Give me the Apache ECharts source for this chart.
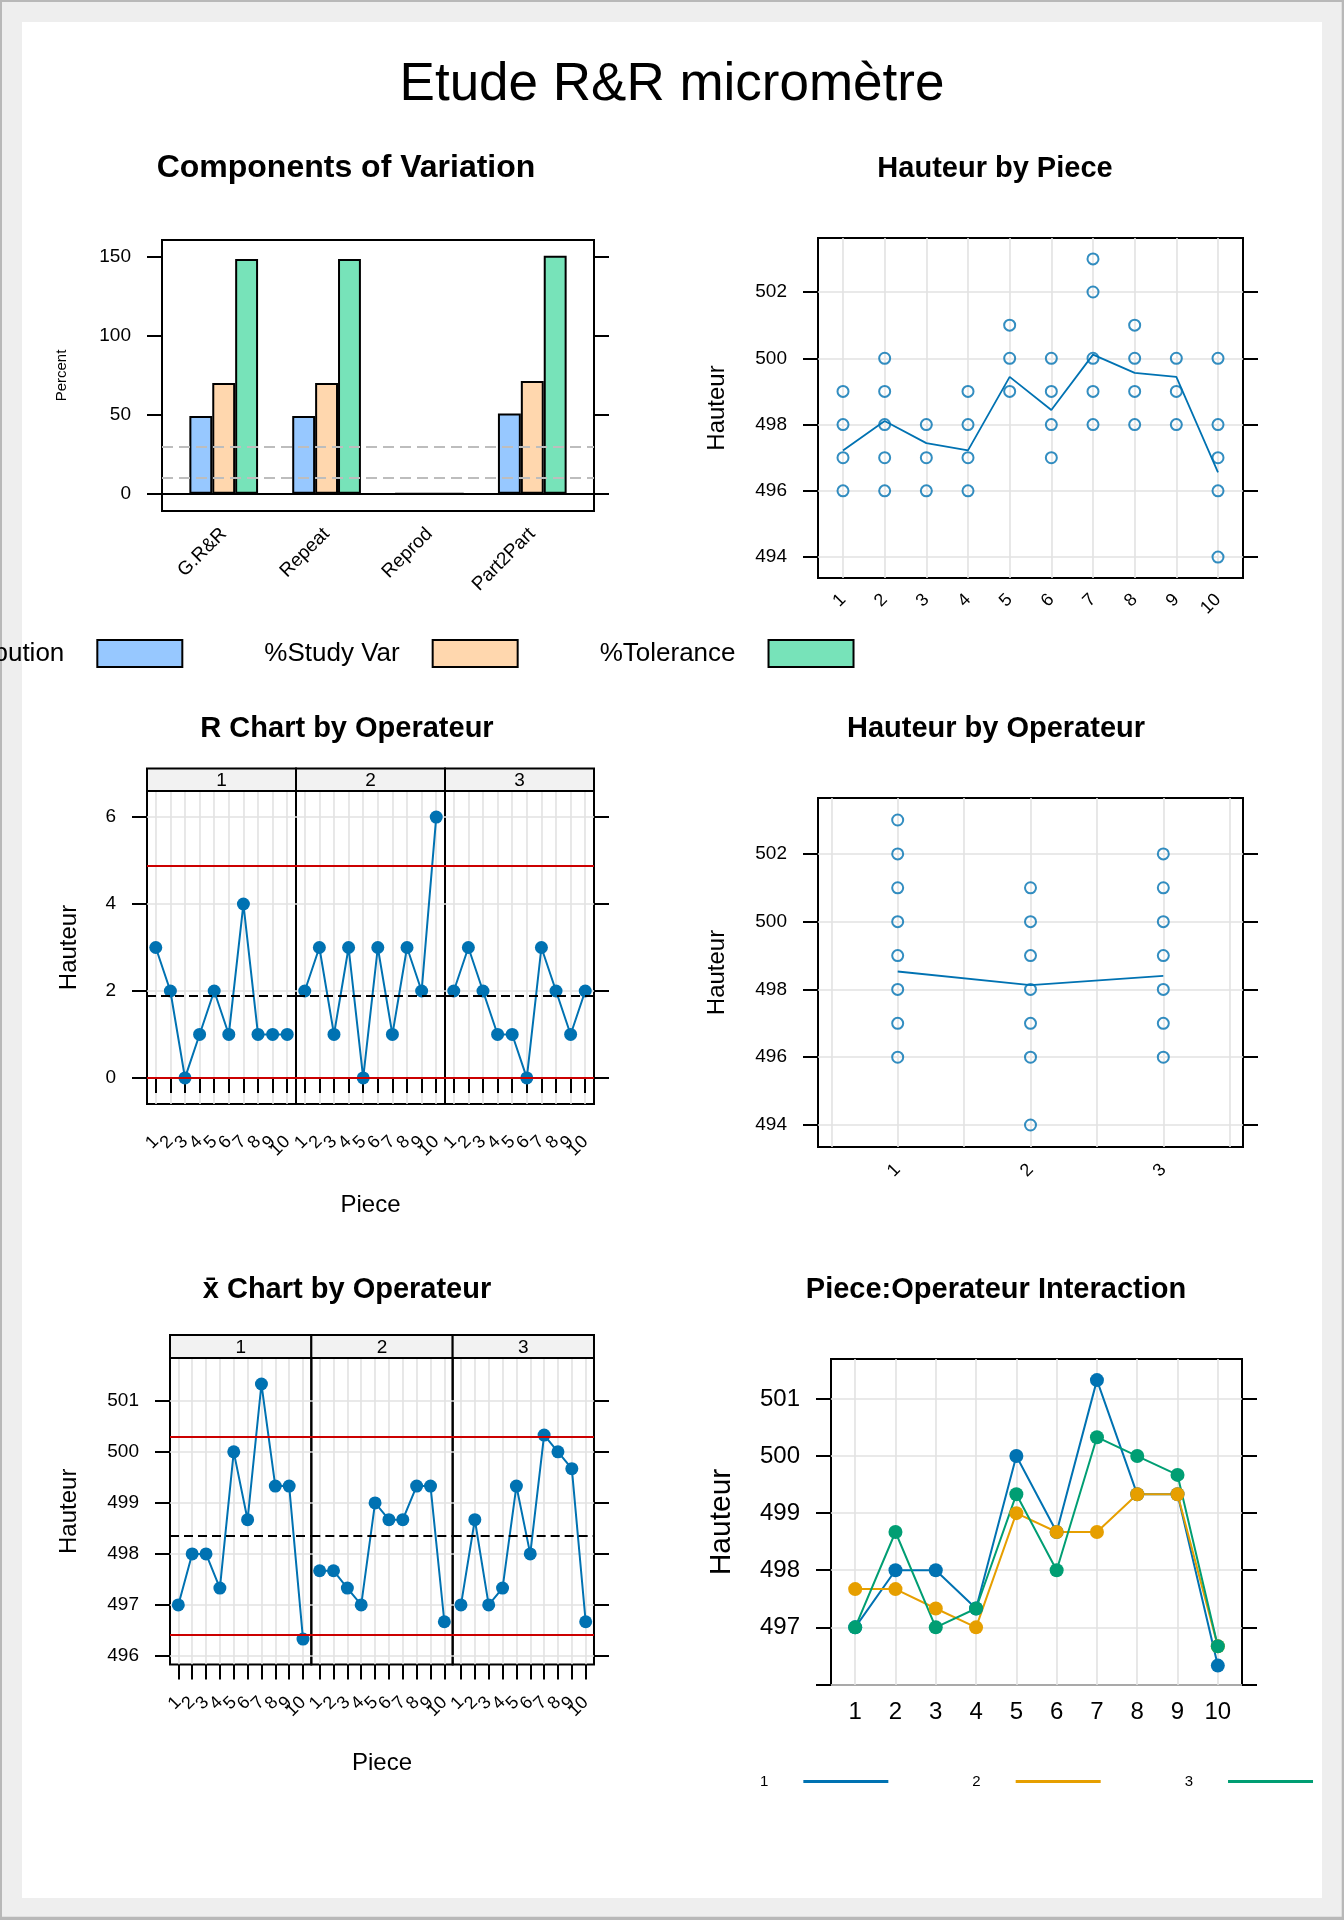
<!DOCTYPE html>
<html><head><meta charset="utf-8">
<script src="https://cdn.jsdelivr.net/npm/echarts@6/dist/echarts.min.js"></script>
<style>html,body{margin:0;padding:0;background:#fff}#c{width:1344px;height:1920px}</style>
</head><body><div id="c"></div>
<script>
const FONT = '"Liberation Sans", Arial, Helvetica, sans-serif';

// ---------- data ----------
const compCategories = ['G.R&R', 'Repeat', 'Reprod', 'Part2Part'];
const pctContribution = [49.2, 49.2, 0, 50.8];
const pctStudyVar = [70.1, 70.1, 0, 71.3];
const pctTolerance = [148.5, 148.5, 0, 150.6];
const compTicks = [0, 50, 100, 150];
const compRefLines = [10, 30];

const pieces = [1, 2, 3, 4, 5, 6, 7, 8, 9, 10];
const pieceObserved = [
  [496, 497, 498, 499],
  [496, 497, 498, 499, 500],
  [496, 497, 498],
  [496, 497, 498, 499],
  [499, 500, 501],
  [497, 498, 499, 500],
  [498, 499, 500, 502, 503],
  [498, 499, 500, 501],
  [498, 499, 500],
  [494, 496, 497, 498, 500]
];
const pieceMeans = [497.22, 498.11, 497.44, 497.22, 499.44, 498.44, 500.11, 499.56, 499.44, 496.56];
const hauteurTicks = [494, 496, 498, 500, 502];

const operators = [1, 2, 3];
const operatorObserved = [
  [496, 497, 498, 499, 500, 501, 502, 503],
  [494, 496, 497, 498, 499, 500, 501],
  [496, 497, 498, 499, 500, 501, 502]
];
const operatorMeans = [498.53, 498.13, 498.40];
const operatorGridTicks = [0.5, 1, 1.5, 2, 2.5, 3, 3.5];

const rangeOp1 = [3, 2, 0, 1, 2, 1, 4, 1, 1, 1];
const rangeOp2 = [2, 3, 1, 3, 0, 3, 1, 3, 2, 6];
const rangeOp3 = [2, 3, 2, 1, 1, 0, 3, 2, 1, 2];
const rCenter = 1.9, rUCL = 4.89, rLCL = 0;
const rTicks = [0, 2, 4, 6];

const meanOp1 = [497.0, 498.0, 498.0, 497.33, 500.0, 498.67, 501.33, 499.33, 499.33, 496.33];
const meanOp2 = [497.67, 497.67, 497.33, 497.0, 499.0, 498.67, 498.67, 499.33, 499.33, 496.67];
const meanOp3 = [497.0, 498.67, 497.0, 497.33, 499.33, 498.0, 500.33, 500.0, 499.67, 496.67];
const xbarCenter = 498.35, xbarUCL = 500.30, xbarLCL = 496.41;
const xbarTicks = [496, 497, 498, 499, 500, 501];
const interTicks = [496, 497, 498, 499, 500, 501];
const interLabels = [497, 498, 499, 500, 501];

// ---------- styles / layout ----------
const C_BLUE = '#0072B2', C_ORANGE = '#E69F00', C_GREEN = '#009E73', C_RED = '#CC0000';
const GRIDC = '#e2e2e2';
const L = {
  comp: {x: 162, y: 240, w: 432, h: 271, min: -10.95, max: 160.57},
  piece: {x: 818, y: 238, w: 425, h: 340, min: 493.37, max: 503.63},
  r: {x: 147, y: 791, pw: 149, h: 313, sh: 22.4, min: -0.6, max: 6.6},
  oper: {x: 818, y: 798, w: 425, h: 349, min: 493.35, max: 503.65},
  xbar: {x: 170, y: 1358, pw: 141.33, h: 306.6, sh: 23.1, min: 495.83, max: 501.84},
  inter: {x: 831, y: 1359, w: 411, h: 326, min: 495.99, max: 501.7}
};

function grid(x, y, w, h) {
  return {left: x, top: y, width: w, height: h, show: true, borderColor: '#000', borderWidth: 2,
    backgroundColor: 'transparent', containLabel: false, outerBoundsMode: 'none'};
}
function axis(kind, g, min, max, o) {
  o = o || {};
  return {
    type: 'value', gridIndex: g, min: min, max: max,
    position: o.pos || (kind === 'x' ? 'bottom' : 'left'),
    axisLine: {show: false},
    axisTick: {show: !!o.tick, inside: false, length: 15, lineStyle: {color: '#000', width: 2}, customValues: o.ticks},
    axisLabel: {show: !!o.label, customValues: o.labels || o.ticks, margin: o.margin || 31, color: '#000',
      fontSize: o.fs || 19, fontFamily: FONT, rotate: o.rotate || 0, hideOverlap: false,
      showMinLabel: true, showMaxLabel: true,
      formatter: o.formatter || undefined},
    splitLine: {show: !!o.grid, lineStyle: {color: GRIDC, width: 1.6}},
    name: o.name || '', nameLocation: 'middle', nameGap: o.nameGap || 0,
    nameTextStyle: {color: '#000', fontSize: o.nfs || 24, fontFamily: FONT}
  };
}
function mline(items) {
  return {silent: true, symbol: ['none', 'none'], label: {show: false}, animation: false,
    emphasis: {disabled: true}, data: items.map(function (it) {
      return {yAxis: it[0], lineStyle: {color: it[1], width: 2, type: it[2] || 'solid'}};
    })};
}
function pairs(xs, ys) { return ys.map(function (v, i) { return [xs[i], v]; }); }
function flatten(xs, lists) {
  const out = [];
  lists.forEach(function (vals, i) { vals.forEach(function (v) { out.push([xs[i], v]); }); });
  return out;
}

// ---------- grids ----------
const grids = [
  grid(L.comp.x, L.comp.y, L.comp.w, L.comp.h),
  grid(L.piece.x, L.piece.y, L.piece.w, L.piece.h),
  grid(L.r.x, L.r.y, L.r.pw, L.r.h),
  grid(L.r.x + L.r.pw, L.r.y, L.r.pw, L.r.h),
  grid(L.r.x + 2 * L.r.pw, L.r.y, L.r.pw, L.r.h),
  grid(L.oper.x, L.oper.y, L.oper.w, L.oper.h),
  grid(L.xbar.x, L.xbar.y, L.xbar.pw, L.xbar.h),
  grid(L.xbar.x + L.xbar.pw, L.xbar.y, L.xbar.pw, L.xbar.h),
  grid(L.xbar.x + 2 * L.xbar.pw, L.xbar.y, L.xbar.pw, L.xbar.h),
  grid(L.inter.x, L.inter.y, L.inter.w, L.inter.h)
];

const xAxes = [
  axis('x', 0, 0.4, 4.6, {label: true, ticks: [1, 2, 3, 4], rotate: 45, margin: 20,
    formatter: function (v) { return compCategories[Math.round(v) - 1]; }}),
  axis('x', 1, 0.4, 10.6, {label: true, ticks: pieces, rotate: 45, margin: 19, fs: 18, grid: true}),
  axis('x', 2, 0.4, 10.6, {tick: true, ticks: pieces, grid: true}),
  axis('x', 3, 0.4, 10.6, {tick: true, ticks: pieces, grid: true, name: 'Piece', nameGap: 89}),
  axis('x', 4, 0.4, 10.6, {tick: true, ticks: pieces, grid: true}),
  axis('x', 5, 0.4, 3.6, {label: true, ticks: operatorGridTicks, labels: operators, rotate: 45, margin: 20, fs: 18, grid: true}),
  axis('x', 6, 0.4, 10.6, {tick: true, ticks: pieces, grid: true}),
  axis('x', 7, 0.4, 10.6, {tick: true, ticks: pieces, grid: true, name: 'Piece', nameGap: 87}),
  axis('x', 8, 0.4, 10.6, {tick: true, ticks: pieces, grid: true}),
  axis('x', 9, 0.4, 10.6, {label: true, ticks: pieces, margin: 15, fs: 24, grid: true})
];
// dense rotated piece labels of the faceted panels: split over three label-only axes per panel
// so that ECharts does not drop overlapping end labels
[2, 3, 4, 6, 7, 8].forEach(function (g) {
  for (let k = 0; k < 3; k++) {
    const group = pieces.filter(function (p, i) { return i % 3 === k; });
    xAxes.push(axis('x', g, 0.4, 10.6, {label: true, ticks: group, rotate: 45, margin: 35, fs: 18}));
  }
});

const yAxes = [
  axis('y', 0, L.comp.min, L.comp.max, {label: true, tick: true, ticks: compTicks, name: 'Percent', nfs: 15, nameGap: 93}),
  axis('y', 0, L.comp.min, L.comp.max, {pos: 'right', tick: true, ticks: compTicks}),
  axis('y', 1, L.piece.min, L.piece.max, {label: true, tick: true, ticks: hauteurTicks, grid: true, name: 'Hauteur', nameGap: 89}),
  axis('y', 1, L.piece.min, L.piece.max, {pos: 'right', tick: true, ticks: hauteurTicks}),
  axis('y', 2, L.r.min, L.r.max, {label: true, tick: true, ticks: rTicks, grid: true, name: 'Hauteur', nameGap: 66}),
  axis('y', 3, L.r.min, L.r.max, {ticks: rTicks, grid: true}),
  axis('y', 4, L.r.min, L.r.max, {ticks: rTicks, grid: true}),
  axis('y', 4, L.r.min, L.r.max, {pos: 'right', tick: true, ticks: rTicks}),
  axis('y', 5, L.oper.min, L.oper.max, {label: true, tick: true, ticks: hauteurTicks, grid: true, name: 'Hauteur', nameGap: 89}),
  axis('y', 5, L.oper.min, L.oper.max, {pos: 'right', tick: true, ticks: hauteurTicks}),
  axis('y', 6, L.xbar.min, L.xbar.max, {label: true, tick: true, ticks: xbarTicks, grid: true, name: 'Hauteur', nameGap: 89}),
  axis('y', 7, L.xbar.min, L.xbar.max, {ticks: xbarTicks, grid: true}),
  axis('y', 8, L.xbar.min, L.xbar.max, {ticks: xbarTicks, grid: true}),
  axis('y', 8, L.xbar.min, L.xbar.max, {pos: 'right', tick: true, ticks: xbarTicks}),
  axis('y', 9, L.inter.min, L.inter.max, {label: true, tick: true, ticks: interTicks, labels: interLabels, fs: 24,
    grid: true, name: 'Hauteur', nfs: 30, nameGap: 94}),
  axis('y', 9, L.inter.min, L.inter.max, {pos: 'right', tick: true, ticks: interTicks})
];

// ---------- series ----------
const barBase = {type: 'bar', xAxisIndex: 0, yAxisIndex: 0, barWidth: 22.9, barGap: '0%'};
const series = [
  Object.assign({}, barBase, {name: '%Contribution', data: pairs([1, 2, 3, 4], pctContribution),
    itemStyle: {color: '#97C8FF', borderColor: '#000', borderWidth: 2}}),
  Object.assign({}, barBase, {name: '%Study Var', data: pairs([1, 2, 3, 4], pctStudyVar),
    itemStyle: {color: '#FFD7AE', borderColor: '#000', borderWidth: 2}}),
  Object.assign({}, barBase, {name: '%Tolerance', data: pairs([1, 2, 3, 4], pctTolerance),
    itemStyle: {color: '#77E3B9', borderColor: '#000', borderWidth: 2},
    markLine: mline([[compRefLines[0], '#bdbdbd', [11, 6]], [compRefLines[1], '#bdbdbd', [11, 6]], [0, '#000']])}),

  {type: 'scatter', name: 'obsPiece', xAxisIndex: 1, yAxisIndex: 2, data: flatten(pieces, pieceObserved),
    symbol: 'circle', symbolSize: 11, itemStyle: {color: 'transparent', borderColor: C_BLUE, borderWidth: 2}},
  {type: 'line', name: 'meanPiece', xAxisIndex: 1, yAxisIndex: 2, data: pairs(pieces, pieceMeans),
    symbol: 'none', lineStyle: {color: C_BLUE, width: 1.8}},

  {type: 'scatter', name: 'obsOper', xAxisIndex: 5, yAxisIndex: 8, data: flatten(operators, operatorObserved),
    symbol: 'circle', symbolSize: 11, itemStyle: {color: 'transparent', borderColor: C_BLUE, borderWidth: 2}},
  {type: 'line', name: 'meanOper', xAxisIndex: 5, yAxisIndex: 8, data: pairs(operators, operatorMeans),
    symbol: 'none', lineStyle: {color: C_BLUE, width: 1.8}}
];

[rangeOp1, rangeOp2, rangeOp3].forEach(function (arr, k) {
  series.push({type: 'line', name: 'R op' + (k + 1), xAxisIndex: 2 + k, yAxisIndex: 4 + k,
    data: pairs(pieces, arr), symbol: 'circle', symbolSize: 13,
    itemStyle: {color: C_BLUE}, lineStyle: {color: C_BLUE, width: 2},
    markLine: mline([[rUCL, C_RED], [rLCL, C_RED], [rCenter, '#000', [9, 5]]])});
});
[meanOp1, meanOp2, meanOp3].forEach(function (arr, k) {
  series.push({type: 'line', name: 'Xbar op' + (k + 1), xAxisIndex: 6 + k, yAxisIndex: 10 + k,
    data: pairs(pieces, arr), symbol: 'circle', symbolSize: 13,
    itemStyle: {color: C_BLUE}, lineStyle: {color: C_BLUE, width: 2},
    markLine: mline([[xbarUCL, C_RED], [xbarLCL, C_RED], [xbarCenter, '#000', [9, 5]]])});
});
[[meanOp1, C_BLUE], [meanOp2, C_ORANGE], [meanOp3, C_GREEN]].forEach(function (s, k) {
  series.push({type: 'line', name: String(k + 1), xAxisIndex: 9, yAxisIndex: 14,
    data: pairs(pieces, s[0]), symbol: 'circle', symbolSize: 14,
    itemStyle: {color: s[1]}, lineStyle: {color: s[1], width: 2}});
});

// ---------- graphics: page, titles, strips ----------
function txt(x, y, text, size, weight) {
  return {type: 'text', x: x, y: y, z: 5, silent: true,
    style: {text: text, fill: '#000', fontSize: size, fontWeight: weight || 'normal', fontFamily: FONT,
      textAlign: 'center', textVerticalAlign: 'middle', align: 'center', verticalAlign: 'middle'}};
}
const gfx = [
  {type: 'rect', z: -20, silent: true, shape: {x: 2, y: 2, width: 1339.7, height: 1914.7}, style: {fill: '#eeeeee'}},
  {type: 'rect', z: -19, silent: true, shape: {x: 22, y: 22, width: 1300, height: 1876}, style: {fill: '#ffffff'}},
  txt(672, 85, 'Etude R&R micromètre', 53),
  txt(346, 168.5, 'Components of Variation', 32, 'bold'),
  txt(995, 168.5, 'Hauteur by Piece', 29, 'bold'),
  txt(347, 728.5, 'R Chart by Operateur', 29, 'bold'),
  txt(996, 728.5, 'Hauteur by Operateur', 29, 'bold'),
  txt(347, 1290, 'x\u0304 Chart by Operateur', 29, 'bold'),
  txt(996, 1290, 'Piece:Operateur Interaction', 29, 'bold')
];
function strips(p) {
  for (let k = 0; k < 3; k++) {
    const x = p.x + k * p.pw;
    gfx.push({type: 'rect', z: 4, silent: true, shape: {x: x, y: p.y - p.sh, width: p.pw, height: p.sh},
      style: {fill: '#f2f2f2', stroke: '#000', lineWidth: 2}});
    gfx.push(txt(x + p.pw / 2, p.y - p.sh / 2 + 1, String(operators[k]), 19));
  }
}
strips(L.r);
strips(L.xbar);

const option = {
  animation: false,
  backgroundColor: '#b8b8b8',
  textStyle: {fontFamily: FONT},
  grid: grids,
  xAxis: xAxes,
  yAxis: yAxes,
  legend: [
    {data: ['%Contribution', '%Study Var', '%Tolerance'], left: -104, top: 634, orient: 'horizontal',
      align: 'right', icon: 'rect', itemWidth: 85, itemHeight: 27, itemGap: 81, selectedMode: false,
      textStyle: {color: '#000', fontSize: 26, fontFamily: FONT, padding: [0, 28, 0, 0]}},
    {data: ['1', '2', '3'], left: 755, top: 1769, orient: 'horizontal',
      align: 'right', icon: 'rect', itemWidth: 85, itemHeight: 3, itemGap: 84, selectedMode: false,
      textStyle: {color: '#000', fontSize: 15, fontFamily: FONT, padding: [0, 30, 0, 0]}}
  ],
  series: series,
  graphic: {elements: gfx}
};
const chart = echarts.init(document.getElementById('c'), null, {renderer: 'canvas'});
chart.setOption(option);
</script>
</body></html>
